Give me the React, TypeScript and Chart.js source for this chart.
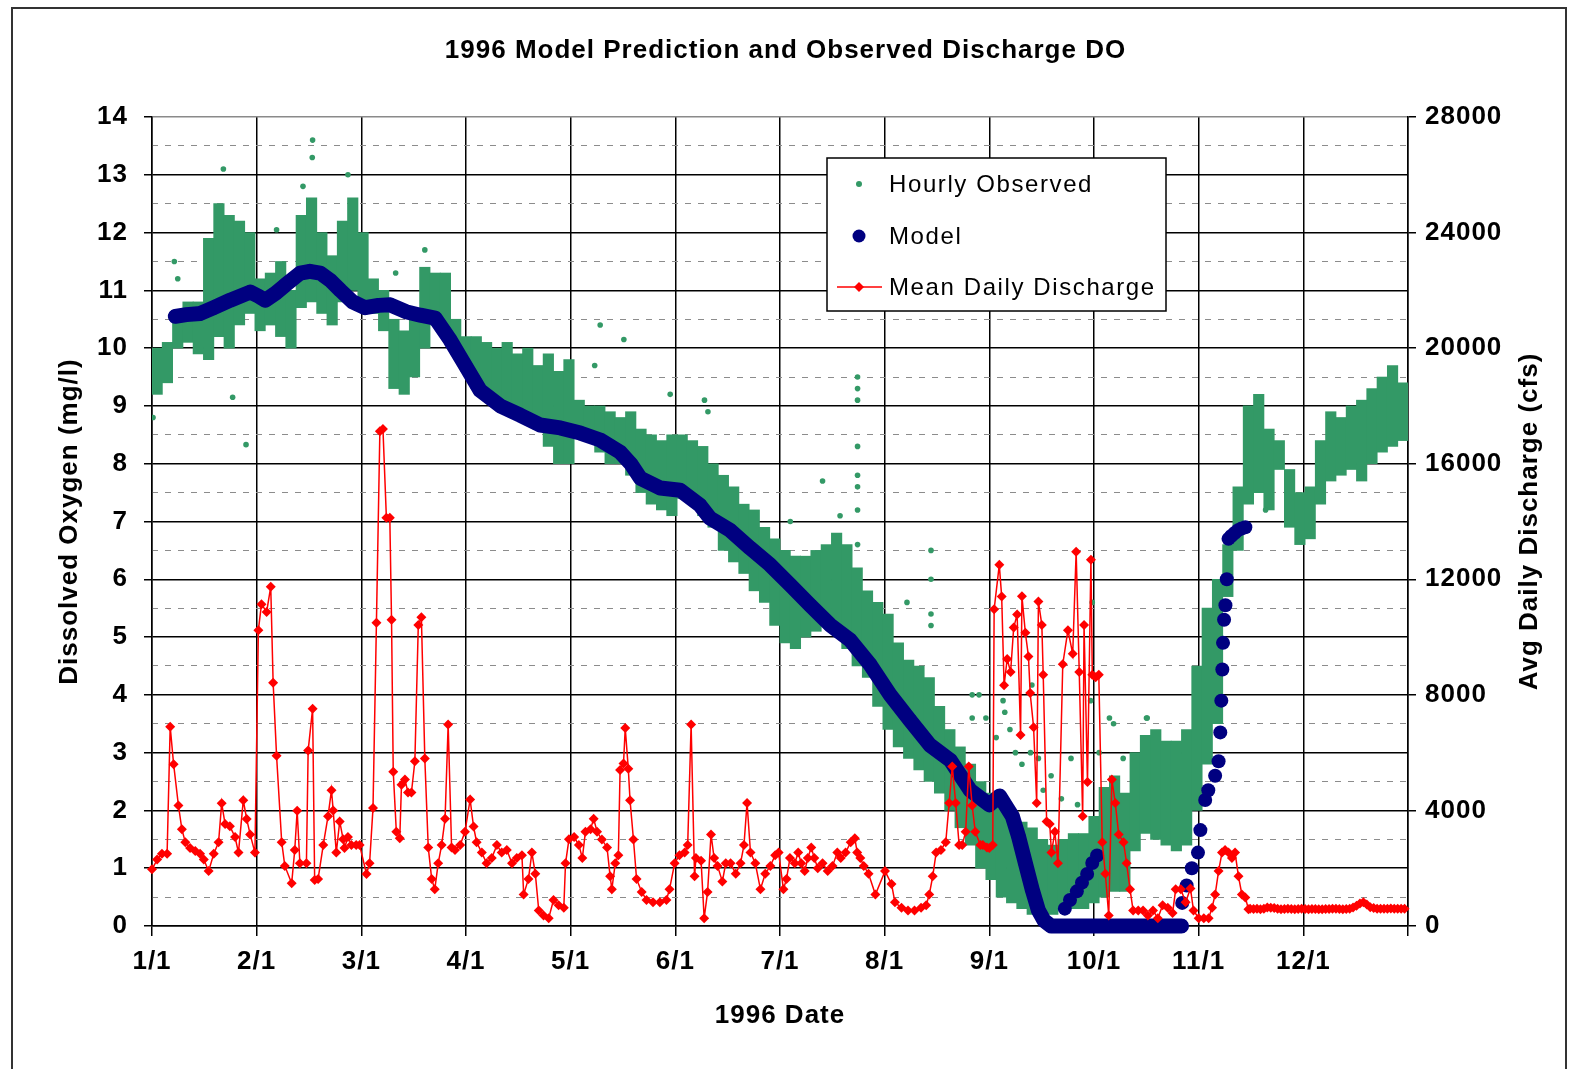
import React, { useEffect, useRef } from 'react';
import { Chart, registerables } from 'chart.js';

Chart.register(...registerables);

const FONT = "'Liberation Sans', Arial, Helvetica, sans-serif";
const GREEN = '#339966';
const NAVY = '#000080';
const RED = '#ff0000';

const chartTitle = '1996 Model Prediction and Observed Discharge DO';
const xAxisTitle = '1996 Date';
const leftAxisTitle = 'Dissolved Oxygen (mg/l)';
const rightAxisTitle = 'Avg Daily Discharge (cfs)';
const seriesNames = ['Hourly Observed', 'Model', 'Mean Daily Discharge'];

// x axis: day of year 1996 (0 = Jan 1), 12 equal divisions
const monthTickDays = [0, 30.5, 61, 91.5, 122, 152.5, 183, 213.5, 244, 274.5, 305, 335.5, 366];
const monthTickLabels = ['1/1', '2/1', '3/1', '4/1', '5/1', '6/1', '7/1', '8/1', '9/1', '10/1', '11/1', '12/1', ''];
const doTicks = [0, 1, 2, 3, 4, 5, 6, 7, 8, 9, 10, 11, 12, 13, 14];
const doMinorTicks = [0.5, 1.5, 2.5, 3.5, 4.5, 5.5, 6.5, 7.5, 8.5, 9.5, 10.5, 11.5, 12.5, 13.5];
const cfsTicks = [0, 4000, 8000, 12000, 16000, 20000, 24000, 28000];

// Hourly observed DO: range of the hourly cloud in 3-day windows (centre day)
const obsBinDay = [
  1.5, 4.5, 7.5, 10.5, 13.5, 16.5, 19.5, 22.5, 25.5, 28.5,
  31.5, 34.5, 37.5, 40.5, 43.5, 46.5, 49.5, 52.5, 55.5, 58.5,
  61.5, 64.5, 67.5, 70.5, 73.5, 76.5, 79.5, 82.5, 85.5, 88.5,
  91.5, 94.5, 97.5, 100.5, 103.5, 106.5, 109.5, 112.5, 115.5, 118.5,
  121.5, 124.5, 127.5, 130.5, 133.5, 136.5, 139.5, 142.5, 145.5, 148.5,
  151.5, 154.5, 157.5, 160.5, 163.5, 166.5, 169.5, 172.5, 175.5, 178.5,
  181.5, 184.5, 187.5, 190.5, 193.5, 196.5, 199.5, 202.5, 205.5, 208.5,
  211.5, 214.5, 217.5, 220.5, 223.5, 226.5, 229.5, 232.5, 235.5, 238.5,
  241.5, 244.5, 247.5, 250.5, 253.5, 256.5, 259.5, 262.5, 265.5, 268.5,
  271.5, 274.5, 277.5, 280.5, 283.5, 286.5, 289.5, 292.5, 295.5, 298.5,
  301.5, 304.5, 307.5, 310.5, 313.5, 316.5, 319.5, 322.5, 325.5, 328.5,
  331.5, 334.5, 337.5, 340.5, 343.5, 346.5, 349.5, 352.5, 355.5, 358.5,
  361.5, 364.5,
];
const obsLow = [
  9.2, 9.4, 10.0, 10.1, 9.9, 9.8, 10.2, 10.0, 10.4, 10.6,
  10.3, 10.4, 10.2, 10.0, 10.7, 10.8, 10.6, 10.4, 10.8, 11.0,
  10.7, 10.6, 10.3, 9.3, 9.2, 9.5, 10.0, 10.4, 10.2, 9.9,
  9.6, 9.3, 9.2, 9.0, 8.9, 8.8, 8.7, 8.6, 8.3, 8.0,
  8.0, 8.6, 8.5, 8.2, 8.0, 8.0, 7.8, 7.5, 7.3, 7.2,
  7.1, 7.4, 7.4, 7.1, 6.9, 6.5, 6.3, 6.1, 5.8, 5.6,
  5.2, 4.9, 4.8, 5.0, 5.1, 5.2, 5.1, 4.8, 4.5, 4.3,
  3.8, 3.4, 3.1, 2.9, 2.7, 2.5, 2.3, 2.0, 1.7, 1.4,
  1.0, 0.8, 0.5, 0.4, 0.3, 0.2, 0.1, 0.2, 0.3, 0.3,
  0.3, 0.4, 0.5, 0.6, 0.6, 1.3, 1.6, 1.5, 1.4, 1.3,
  1.4, 2.0, 2.8, 3.5, 5.7, 6.5, 7.3, 7.5, 7.2, 7.9,
  6.9, 6.6, 6.7, 7.3, 7.7, 7.8, 7.9, 7.7, 8.0, 8.2,
  8.3, 8.4,
];
const obsHigh = [
  10.0, 10.1, 10.6, 10.8, 10.8, 11.9, 12.5, 12.3, 12.2, 12.0,
  11.2, 11.3, 11.5, 11.0, 12.3, 12.6, 12.0, 11.6, 12.2, 12.6,
  12.0, 11.2, 11.0, 10.5, 10.3, 10.6, 11.4, 11.3, 11.3, 10.5,
  10.2, 10.2, 10.1, 10.0, 10.1, 9.9, 10.0, 9.7, 9.9, 9.6,
  9.8, 9.1, 9.0, 9.0, 8.9, 8.8, 8.9, 8.6, 8.5, 8.4,
  8.5, 8.5, 8.4, 8.3, 8.0, 7.8, 7.6, 7.3, 7.2, 6.9,
  6.7, 6.5, 6.4, 6.4, 6.5, 6.6, 6.8, 6.6, 6.2, 5.8,
  5.6, 5.4, 4.9, 4.6, 4.5, 4.3, 3.8, 3.4, 3.1, 2.8,
  2.5, 2.3, 2.1, 2.0, 1.8, 1.7, 1.5, 1.4, 1.5, 1.6,
  1.6, 1.9, 2.4, 2.6, 2.3, 3.0, 3.3, 3.4, 3.2, 3.2,
  3.4, 4.5, 5.5, 6.0, 6.6, 7.6, 9.0, 9.2, 8.6, 8.4,
  7.9, 7.5, 7.6, 8.4, 8.9, 8.8, 9.0, 9.1, 9.3, 9.5,
  9.7, 9.4,
];
// isolated hourly readings outside the main cloud [day, mg/l]
const obsIsolated = [
  [0.3, 8.8], [6.5, 11.5], [7.5, 11.2], [20.8, 13.1], [23.5, 9.15], [27.4, 8.33],
  [36.3, 12.05], [44, 12.8], [46.7, 13.3], [46.8, 13.6], [57.1, 13.0], [71, 11.3],
  [79.5, 11.7], [129, 9.7], [130.6, 10.4], [137.5, 10.15], [151, 9.2], [161, 9.1],
  [162, 8.9], [186, 7.0], [195.4, 7.7], [200.5, 7.1], [205.6, 9.5], [205.6, 9.3],
  [205.6, 9.1], [205.6, 8.3], [205.6, 7.8], [205.6, 7.6], [205.6, 7.2], [205.6, 6.6],
  [220, 5.6], [227, 6.5], [227, 6.0], [227, 5.4], [227, 5.2], [239, 4.0], [239, 3.6],
  [241, 4.0], [243, 3.6], [246, 3.26], [248, 3.9], [248.5, 3.7], [250, 3.4], [251.6, 3.0],
  [253.5, 2.8], [256, 3.0], [256.4, 4.17], [258.3, 2.9], [259.7, 2.35], [262, 2.6],
  [265, 2.2], [267.8, 2.9], [269.7, 2.1], [273.5, 3.9], [274, 5.6], [276, 3.0],
  [279, 3.6], [280.2, 3.5], [283, 2.9], [289.8, 3.6], [290, 3.6], [324.5, 7.2],
];

// Model DO [day, mg/l] — continuous run
const modelRun = [
  [6.8, 10.55], [10, 10.58], [14.1, 10.6], [18, 10.7], [22.8, 10.83], [28.6, 10.97],
  [31, 10.9], [33, 10.83], [36, 10.95], [38.8, 11.09], [43.2, 11.3], [46, 11.33],
  [49, 11.3], [52, 11.17], [54.9, 11.0], [58.5, 10.8], [62.1, 10.7], [66, 10.74],
  [69.4, 10.75], [74, 10.63], [78.2, 10.57], [82.5, 10.52], [86.9, 10.14], [91.3, 9.7],
  [95.6, 9.27], [101.5, 9.0], [107.3, 8.84], [113.1, 8.67], [119, 8.62], [124.8, 8.53],
  [130.6, 8.41], [136.4, 8.2], [139.5, 8.0], [142.3, 7.75], [148.1, 7.58], [153.9, 7.54],
  [159.7, 7.28], [162.6, 7.06], [168.4, 6.85], [174.3, 6.54], [180.1, 6.25], [186, 5.9],
  [191.8, 5.55], [197.6, 5.21], [203.4, 4.95], [209.3, 4.52], [215.1, 4.0], [220.9, 3.56],
  [226.7, 3.13], [232.6, 2.87], [238.4, 2.35], [244, 2.1], [247, 2.25], [250.7, 1.9],
  [252.5, 1.55], [254.5, 1.09], [256.5, 0.63], [258.3, 0.27], [260, 0.09], [262, 0],
  [270, 0], [280, 0], [290, 0], [300, 0],
];
// Model DO [day, mg/l] — separate daily points (early Oct, Nov recovery)
const modelPoints = [
  [266, 0.3], [267.5, 0.45], [269.5, 0.6], [271, 0.75], [272.5, 0.9], [274, 1.09],
  [275.4, 1.22], [300.2, 0.4], [301.5, 0.7], [303, 1.0], [304.8, 1.27], [305.5, 1.66],
  [306.9, 2.18], [307.8, 2.35], [309.8, 2.6], [310.8, 2.85], [311.3, 3.35], [311.6, 3.9],
  [311.9, 4.44], [312.1, 4.9], [312.4, 5.3], [312.8, 5.55], [313.2, 6.0], [313.7, 6.7],
  [314.5, 6.75], [315.5, 6.8], [316.5, 6.85], [317.5, 6.88], [318.6, 6.9],
];

// Mean daily discharge [day, cfs]
const dischargeJanFeb = [
  [0, 1960], [1.5, 2300], [2.9, 2500], [4.4, 2500], [5.3, 6900], [6.3, 5600], [7.7, 4170],
  [8.7, 3350], [9.7, 2900], [11.1, 2700], [12.6, 2600], [14, 2500], [15.1, 2300], [16.5, 1900],
  [18, 2500], [19.4, 2900], [20.3, 4250], [21.3, 3530], [22.7, 3450], [24.2, 3080], [25.2, 2540],
  [26.6, 4350], [27.6, 3700], [28.6, 3170], [30, 2540], [31, 10240], [31.9, 11140], [33.4, 10870],
  [34.6, 11740], [35.3, 8420], [36.3, 5890], [37.8, 2900], [38.7, 2080], [40.7, 1480], [41.6, 2630],
  [42.3, 3990], [43.1, 2170], [45, 2170], [45.5, 6070], [46.8, 7520], [47.4, 1590], [48.4, 1630],
  [49.9, 2800], [51.3, 3800], [52.3, 4700], [52.8, 4000], [53.7, 2540], [54.7, 3620], [55.7, 3000],
  [56.1, 2700], [57.1, 3080], [58.1, 2800], [59.5, 2800], [60.5, 2800],
];
const dischargeMarApr = [
  [62.5, 1800], [63.4, 2170], [64.4, 4080], [65.4, 10500], [66.4, 17120], [67.3, 17200],
  [68.3, 14130], [69.3, 14130], [69.8, 10600], [70.3, 5340], [71.2, 3260], [72.2, 3040],
  [72.7, 4890], [73.7, 5070], [74.6, 4620], [75.6, 4620], [76.6, 5700], [77.6, 10420],
  [78.5, 10690], [79.5, 5800], [80.5, 2720], [81.5, 1630], [82.4, 1270], [83.4, 2170],
  [84.4, 2800], [85.4, 3710], [86.3, 6970], [87.3, 2720], [88.3, 2630], [89.8, 2800],
  [91.2, 3260], [92.7, 4380], [93.7, 3440], [94.6, 2900], [96.1, 2540], [97.5, 2170],
  [99, 2350], [100.5, 2800], [101.9, 2540], [103.4, 2630], [104.9, 2170], [106.3, 2350],
  [107.8, 2450], [108.3, 1090], [109.7, 1630], [110.7, 2540], [111.7, 1810], [112.7, 540],
  [114.1, 360], [115.6, 270], [117, 900], [118.5, 720], [120, 630], [120.5, 2170], [121.5, 3000],
];
const dischargeMayJun = [
  [123, 3080], [124.4, 2800], [125.4, 2350], [126.3, 3260], [127.8, 3350], [128.7, 3710],
  [129.7, 3260], [131.1, 2990], [132.6, 2720], [133.5, 1720], [134, 1270], [135, 2170],
  [135.9, 2450], [136.4, 5400], [137.4, 5620], [137.9, 6850], [138.8, 5440], [139.3, 4350],
  [140.3, 2990], [141.2, 1630], [142.7, 1180], [144.1, 900], [146, 820], [148, 820],
  [149.9, 900], [150.8, 1270], [152.3, 2170], [153.7, 2450], [155.2, 2540], [156.1, 2800],
  [157.1, 6970], [158.1, 1720], [158.5, 2350], [160, 2260], [160.9, 270], [161.9, 1180],
  [162.9, 3170], [163.8, 2350], [164.8, 2080], [166.2, 1540], [167.2, 2170], [168.6, 2170],
  [170.1, 1810], [171.5, 2170], [172.5, 2800], [173.4, 4260], [174.4, 2540], [175.8, 2170],
  [177.3, 1270], [178.7, 1810], [180.2, 2080], [181.6, 2450], [182.6, 2540],
];
const dischargeJulAug = [
  [184, 1270], [184.9, 1630], [185.9, 2350], [187.3, 2170], [188.3, 2540], [189.2, 2170],
  [190.2, 1900], [191.1, 2350], [192.1, 2720], [193, 2350], [194, 2000], [195.4, 2170],
  [196.9, 1900], [198.3, 2080], [199.7, 2540], [200.7, 2350], [202.1, 2540], [203.6, 2900],
  [204.8, 3040], [205.5, 2540], [206.4, 2350], [207.4, 2080], [208.8, 1810], [210.8, 1090],
  [213.6, 1900], [215.5, 1450], [216.5, 820], [218.4, 630], [220.3, 540], [222.2, 540],
  [224.1, 630], [225.6, 720], [226.5, 1090], [227.5, 1720], [228.5, 2540], [229.9, 2630],
  [231.3, 2900], [232.3, 4260], [233.2, 5520], [234.2, 4260], [235.2, 2800], [236.1, 2800],
  [237.1, 3260], [238, 5520], [239, 4170], [239.9, 3260], [241.4, 2800], [242.1, 2800], [243.3, 2720],
];
const dischargeSepOct = [
  [244, 2700], [245, 2800], [245.4, 10960], [246.9, 12500], [247.6, 11400], [248.3, 8330],
  [249.2, 9240], [250.2, 8790], [251.1, 10330], [252.1, 10780], [253.1, 6610], [253.5, 11410],
  [254.5, 10150], [255.4, 9330], [255.9, 8060], [256.9, 6880], [257.8, 4260], [258.3, 11230],
  [259.3, 10420], [259.7, 8700], [260.7, 3620], [261.6, 3530], [262.1, 2540], [263.1, 3260],
  [264, 2170], [265.4, 9060], [266.9, 10240], [268.3, 9420], [269.3, 12950], [270.2, 8790],
  [271.2, 3800], [271.6, 10420], [272.6, 4980], [273.6, 12680], [274, 8700], [275, 8610],
  [275.9, 8700], [276.9, 2900], [277.8, 1810], [278.8, 360], [279.7, 5070], [280.7, 4260],
  [281.7, 3170], [283.1, 2900], [284, 2170], [285, 1270], [285.9, 540], [287.4, 540],
  [288.8, 540], [290.2, 360], [291.7, 540], [293.1, 270], [294.5, 720], [296, 630],
  [297.4, 450], [298.3, 1270], [299.8, 1270], [301.2, 820], [302.6, 1300], [303.5, 540],
];
const dischargeNovDec = [
  [305, 270], [306.5, 270], [307.9, 270], [308.9, 630], [309.8, 1090], [310.8, 1900],
  [311.8, 2540], [312.7, 2630], [313.7, 2540], [314.7, 2350], [315.6, 2540], [316.6, 1720],
  [317.6, 1090], [318.6, 990], [319.5, 580], [320, 600], [321, 590], [322, 600], [323, 580],
  [324, 600], [325, 640], [326, 630], [327, 620], [328, 600], [329, 580], [330, 590],
  [331, 600], [332, 590], [333, 580], [334, 590], [335, 600], [336, 590], [337, 580],
  [338, 590], [339, 590], [340, 580], [341, 580], [342, 590], [343, 590], [344, 600],
  [345, 600], [346, 590], [347, 580], [348, 590], [349, 600], [350, 640], [351, 700],
  [352, 780], [353, 820], [354, 740], [355, 650], [356, 620], [357, 600], [358, 600],
  [359, 600], [360, 600], [361, 610], [362, 600], [363, 600], [364, 600], [365, 600],
];

const toXY = (pairs: number[][]) => pairs.map(([x, y]) => ({ x, y }));

const tickFont = { family: FONT, size: 26, weight: 'bold' as const };

const decorPlugin = {
  id: 'decor',
  beforeDraw(chart: any) {
    chart.ctx.letterSpacing = '1px';
  },
  afterDraw(chart: any) {
    const ctx = chart.ctx;
    const ca = chart.chartArea;
    // right axis title, reading bottom-to-top
    ctx.save();
    ctx.letterSpacing = '1px';
    ctx.font = `bold 26px ${FONT}`;
    ctx.fillStyle = '#000';
    ctx.textAlign = 'center';
    ctx.textBaseline = 'middle';
    ctx.translate(ca.right + 122, (ca.top + ca.bottom) / 2);
    ctx.rotate(-Math.PI / 2);
    ctx.fillText(rightAxisTitle, 0, 0);
    ctx.restore();

    // legend box
    ctx.save();
    const bx = 827, by = 158, bw = 339, bh = 153;
    ctx.fillStyle = '#fff';
    ctx.fillRect(bx, by, bw, bh);
    ctx.strokeStyle = '#000';
    ctx.lineWidth = 1.5;
    ctx.strokeRect(bx, by, bw, bh);
    const mx = 859;
    const rows = [184, 236, 287];
    ctx.fillStyle = GREEN;
    ctx.beginPath();
    ctx.arc(mx, rows[0], 3, 0, Math.PI * 2);
    ctx.fill();
    ctx.fillStyle = NAVY;
    ctx.beginPath();
    ctx.arc(mx, rows[1], 6.5, 0, Math.PI * 2);
    ctx.fill();
    ctx.strokeStyle = RED;
    ctx.lineWidth = 1.5;
    ctx.beginPath();
    ctx.moveTo(837, rows[2]);
    ctx.lineTo(882, rows[2]);
    ctx.stroke();
    ctx.fillStyle = RED;
    ctx.beginPath();
    ctx.moveTo(mx, rows[2] - 5);
    ctx.lineTo(mx + 5, rows[2]);
    ctx.lineTo(mx, rows[2] + 5);
    ctx.lineTo(mx - 5, rows[2]);
    ctx.closePath();
    ctx.fill();
    ctx.fillStyle = '#000';
    ctx.font = `24px ${FONT}`;
    ctx.letterSpacing = '1.6px';
    ctx.textAlign = 'left';
    ctx.textBaseline = 'middle';
    seriesNames.forEach((name, i) => ctx.fillText(name, 889, rows[i] + 1));
    ctx.restore();
  },
};

export default function App() {
  const ref = useRef<HTMLCanvasElement>(null);

  useEffect(() => {
    const canvas = ref.current;
    if (!canvas) return;
    const chart = new Chart(canvas, {
      type: 'scatter',
      data: {
        datasets: [
          {
            type: 'scatter',
            label: seriesNames[2],
            data: toXY([...dischargeJanFeb, ...dischargeMarApr, ...dischargeMayJun, ...dischargeJulAug, ...dischargeSepOct, ...dischargeNovDec]),
            showLine: true,
            borderColor: RED,
            backgroundColor: RED,
            borderWidth: 1.5,
            pointStyle: 'rectRot',
            pointRadius: 5,
            pointBorderWidth: 0,
            yAxisID: 'y2',
            clip: false,
            order: 0,
          } as any,
          {
            type: 'scatter',
            label: seriesNames[1],
            data: toXY(modelRun),
            showLine: true,
            borderColor: NAVY,
            backgroundColor: NAVY,
            borderWidth: 15,
            borderCapStyle: 'round',
            borderJoinStyle: 'round',
            pointRadius: 7,
            pointBorderWidth: 0,
            yAxisID: 'y',
            clip: false,
            order: 1,
          } as any,
          {
            type: 'scatter',
            label: seriesNames[1] + ' daily',
            data: toXY(modelPoints),
            showLine: false,
            backgroundColor: NAVY,
            borderColor: NAVY,
            pointRadius: 7,
            pointBorderWidth: 0,
            yAxisID: 'y',
            clip: false,
            order: 1,
          } as any,
          {
            type: 'scatter',
            label: seriesNames[0] + ' isolated',
            data: toXY(obsIsolated),
            backgroundColor: GREEN,
            borderColor: GREEN,
            pointRadius: 2.8,
            pointBorderWidth: 0,
            yAxisID: 'y',
            order: 2,
          } as any,
          {
            type: 'bar',
            label: seriesNames[0],
            data: obsBinDay.map((d, i) => ({ x: d, y: [obsLow[i], obsHigh[i]] })),
            backgroundColor: GREEN,
            borderWidth: 0,
            barThickness: 10.5,
            grouped: false,
            yAxisID: 'y',
            order: 3,
          } as any,
        ],
      },
      options: {
        responsive: false,
        devicePixelRatio: 1,
        animation: false,
        events: [],
        layout: { padding: 0 },
        plugins: {
          legend: { display: false },
          tooltip: { enabled: false },
          title: {
            display: true,
            text: chartTitle,
            color: '#000',
            font: { family: FONT, size: 26, weight: 'bold' },
            padding: { top: 35.4, bottom: 50.4 },
          },
        },
        scales: {
          x: {
            type: 'linear',
            position: 'bottom',
            min: 0,
            max: 366,
            offset: false,
            afterBuildTicks: (s: any) => { s.ticks = monthTickDays.map((v) => ({ value: v })); },
            afterFit: (s: any) => { s.height = 143; },
            ticks: {
              autoSkip: false,
              maxRotation: 0,
              minRotation: 0,
              padding: 10,
              color: '#000',
              font: tickFont,
              callback: (_v: any, i: number) => monthTickLabels[i] ?? '',
            },
            grid: { offset: false, color: '#000', lineWidth: 1.5, tickLength: 10, tickColor: '#000', tickWidth: 1.5 },
            border: { display: true, color: '#000', width: 1.5 },
            title: {
              display: true,
              text: xAxisTitle,
              color: '#000',
              font: tickFont,
              padding: { top: 0, bottom: 38 },
            },
          },
          y: {
            type: 'linear',
            position: 'left',
            min: 0,
            max: 14,
            afterBuildTicks: (s: any) => { s.ticks = doTicks.map((v) => ({ value: v })); },
            afterFit: (s: any) => { s.width = 152; },
            ticks: { padding: 16, color: '#000', font: tickFont, callback: (v: any) => String(v) },
            grid: {
              color: (c: any) => (c.tick && c.tick.value === 14 ? '#8a8a8a' : '#000'),
              lineWidth: 1.5,
              tickLength: 8,
              tickColor: '#000',
              tickWidth: 1.5,
            },
            border: { display: true, color: '#000', width: 1.5 },
            title: {
              display: true,
              text: leftAxisTitle,
              color: '#000',
              font: tickFont,
              padding: { top: 54, bottom: 0 },
            },
          },
          yMinor: {
            type: 'linear',
            position: 'left',
            min: 0,
            max: 14,
            afterBuildTicks: (s: any) => { s.ticks = doMinorTicks.map((v) => ({ value: v })); },
            afterFit: (s: any) => { s.width = 0; },
            ticks: { display: false },
            grid: { color: '#8c8c8c', lineWidth: 1, drawTicks: false },
            border: { display: false, dash: [6, 7] },
          },
          y2: {
            type: 'linear',
            position: 'right',
            min: 0,
            max: 28000,
            afterBuildTicks: (s: any) => { s.ticks = cfsTicks.map((v) => ({ value: v })); },
            afterFit: (s: any) => { s.width = 163; },
            ticks: { padding: 9, color: '#000', font: tickFont, callback: (v: any) => String(v) },
            grid: { drawOnChartArea: false, color: '#000', lineWidth: 1.5, tickLength: 8 },
            border: { display: true, color: '#000', width: 1.5 },
          },
        },
      } as any,
      plugins: [decorPlugin],
    });
    return () => chart.destroy();
  }, []);

  return (
    <div style={{ position: 'fixed', left: 0, top: 0, width: 1571, height: 1069, overflow: 'hidden', background: '#fff' }}>
      <div
        style={{
          position: 'absolute',
          left: 11,
          top: 7,
          width: 1556,
          height: 1100,
          border: '2px solid #333',
          boxSizing: 'border-box',
        }}
      />
      <canvas ref={ref} width={1571} height={1069} style={{ position: 'absolute', left: 0, top: 0, width: 1571, height: 1069 }} />
    </div>
  );
}
